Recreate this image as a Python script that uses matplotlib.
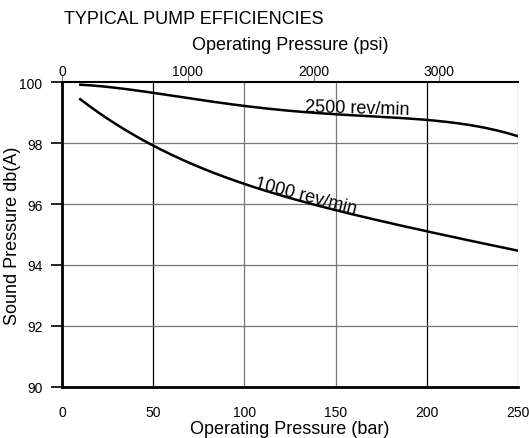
import matplotlib
matplotlib.use("Agg")
import matplotlib.pyplot as plt
import numpy as np

plt.rcParams['font.family'] = ['Liberation Sans', 'DejaVu Sans']

# data (bar vs sound pressure db(A))
pressure_bar = [10, 25, 50, 75, 100, 150, 200, 225, 250]
rpm_2500 = [99.90, 99.85, 99.67, 99.41, 99.18, 98.98, 98.75, 98.56, 98.23]
rpm_1000 = [99.48, 98.72, 97.93, 97.25, 96.66, 95.77, 95.11, 94.80, 94.46]

x_ticks = [0, 50, 100, 150, 200, 250]
y_ticks = [90, 92, 94, 96, 98, 100]
psi_ticks = [0, 1000, 2000, 3000]
BAR_TO_PSI = 14.5038


def smooth(x, y, n=200):
    # smooth curve through the read points
    xs = np.linspace(x[0], x[-1], n)
    coef = np.polyfit(x, y, 4)
    return xs, np.polyval(coef, xs)


fig = plt.figure(figsize=(5.29, 4.39), dpi=100)
ax = fig.add_axes([0.1172, 0.1162, 0.8620, 0.6947])

for xs, ys in (smooth(pressure_bar, rpm_2500), smooth(pressure_bar, rpm_1000)):
    ax.plot(xs, ys, color='black', lw=1.8, zorder=3)

ax.set_xlim(0, 250)
ax.set_ylim(90, 100)

# grid lines, some black and some grey like the original
grid_cols = {50: 'black', 100: '#777777', 150: '#777777', 200: 'black', 250: '#777777'}
for xv, c in grid_cols.items():
    ax.axvline(xv, color=c, lw=0.9, zorder=1)
for yv in y_ticks[1:-1]:
    ax.axhline(yv, color='#777777', lw=0.9, zorder=1)

ax.spines['right'].set_visible(False)
ax.spines['left'].set_linewidth(2)
ax.spines['bottom'].set_linewidth(2)
ax.spines['top'].set_linewidth(1.5)

ax.set_xticks(x_ticks)
ax.set_xticks([0], minor=True)
ax.set_yticks(y_ticks)
ax.tick_params(axis='x', which='major', length=0, pad=13, labelsize=10)
ax.tick_params(axis='x', which='minor', length=5, width=2)
ax.tick_params(axis='y', length=8, width=1.2, pad=6, labelsize=10)
ax.set_xlabel('Operating Pressure (bar)', fontsize=13, labelpad=1)
ax.set_ylabel('Sound Pressure db(A)', fontsize=13, labelpad=-1)

top = ax.secondary_xaxis('top', functions=(lambda b: b * BAR_TO_PSI, lambda p: p / BAR_TO_PSI))
top.set_xticks(psi_ticks)
top.tick_params(length=5, width=0.8, color='#777777', labelsize=10, pad=-2)
top.spines['top'].set_visible(False)
top.set_xlabel('Operating Pressure (psi)', fontsize=13, labelpad=11)

ax.text(133, 99.05, '2500 rev/min', fontsize=13, rotation=-1.6, ha='left', va='baseline',
        rotation_mode='anchor')
ax.text(105, 96.55, '1000 rev/min', fontsize=13, rotation=-14.5, ha='left', va='baseline',
        rotation_mode='anchor')

fig.text(64 / 529, 1 - 20 / 439, 'TYPICAL PUMP EFFICIENCIES', fontsize=13, ha='left', va='center')

fig.savefig('out.png', dpi=100)
